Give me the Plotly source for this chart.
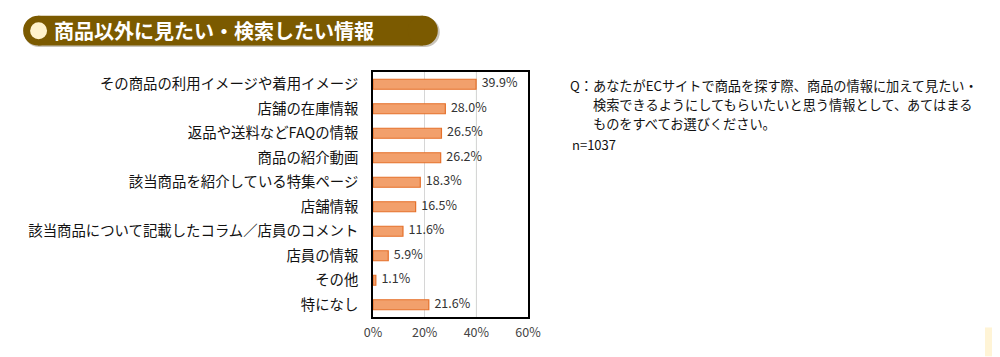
import plotly.graph_objects as go

categories = [
    "その商品の利用イメージや着用イメージ",
    "店舗の在庫情報",
    "返品や送料などFAQの情報",
    "商品の紹介動画",
    "該当商品を紹介している特集ページ",
    "店舗情報",
    "該当商品について記載したコラム／店員のコメント",
    "店員の情報",
    "その他",
    "特になし",
]
values = [39.9, 28.0, 26.5, 26.2, 18.3, 16.5, 11.6, 5.9, 1.1, 21.6]
value_labels = [f"{v:.1f}%" for v in values]
tick_vals = [0, 20, 40, 60]
tick_text = ["0%", "20%", "40%", "60%"]

W, H = 1000, 357
OFF = 8  # page body margin
PX0, PX1 = 373 - OFF, 528.5 - OFF
PY0, PY1 = 71.5 - OFF, 317.5 - OFF
FONT = "Noto Sans CJK JP"


def px(x):
    return (x - OFF - PX0) / (PX1 - PX0)


def py(y):
    return (PY1 - (y - OFF)) / (PY1 - PY0)


fig = go.Figure()
fig.add_trace(go.Bar(
    y=categories,
    x=values,
    orientation="h",
    marker=dict(color="#F2A06C", line=dict(color="#E5702A", width=1.2)),
    width=0.41,
    hoverinfo="skip",
))
fig.add_trace(go.Scatter(
    y=categories,
    x=values,
    mode="text",
    text=["  " + t for t in value_labels],
    textposition="middle right",
    textfont=dict(family=FONT, size=12.5, color="#333333"),
    cliponaxis=False,
    hoverinfo="skip",
))

shapes = []


def pill(x0, y0, x1, y1, color):
    r = (y1 - y0) / 2
    return [
        dict(type="rect", xref="paper", yref="paper", x0=px(x0 + r), x1=px(x1 - r),
             y0=py(y1), y1=py(y0), fillcolor=color, line=dict(width=0), layer="above"),
        dict(type="circle", xref="paper", yref="paper", x0=px(x0), x1=px(x0 + 2 * r),
             y0=py(y1), y1=py(y0), fillcolor=color, line=dict(width=0), layer="above"),
        dict(type="circle", xref="paper", yref="paper", x0=px(x1 - 2 * r), x1=px(x1),
             y0=py(y1), y1=py(y0), fillcolor=color, line=dict(width=0), layer="above"),
    ]


shapes += pill(23, 16.5, 440, 46.5, "#C9C4BA")
shapes += pill(22, 15, 438, 45, "#7B5A00")
shapes.append(dict(type="circle", xref="paper", yref="paper", x0=px(29), x1=px(46),
                   y0=py(38.5), y1=py(21.5), fillcolor="#FFF3CC", line=dict(width=0), layer="above"))
shapes.append(dict(type="rect", xref="paper", yref="paper", x0=px(987), x1=px(1000),
                   y0=py(357), y1=py(328), fillcolor="#FFF4D6", line=dict(width=0), layer="above"))
shapes.append(dict(type="line", xref="x", yref="paper", x0=40, x1=40, y0=0, y1=1,
                   line=dict(color="#DCEEDC", width=1), layer="below"))

annotations = [
    dict(text="<b>商品以外に見たい・検索したい情報</b>", x=px(51), y=py(30), xref="paper", yref="paper",
         xanchor="left", yanchor="middle", showarrow=False,
         font=dict(family=FONT, size=20, color="white")),
    dict(text="Q：あなたがECサイトで商品を探す際、商品の情報に加えて見たい・", x=px(569), y=py(85),
         xref="paper", yref="paper", xanchor="left", yanchor="middle", showarrow=False,
         font=dict(family=FONT, size=13.2, color="#111111")),
    dict(text="検索できるようにしてもらいたいと思う情報として、あてはまる", x=px(592), y=py(104),
         xref="paper", yref="paper", xanchor="left", yanchor="middle", showarrow=False,
         font=dict(family=FONT, size=13.2, color="#111111")),
    dict(text="ものをすべてお選びください。", x=px(592), y=py(123),
         xref="paper", yref="paper", xanchor="left", yanchor="middle", showarrow=False,
         font=dict(family=FONT, size=13.2, color="#111111")),
    dict(text="n=1037", x=px(571), y=py(144),
         xref="paper", yref="paper", xanchor="left", yanchor="middle", showarrow=False,
         font=dict(family=FONT, size=13, color="#111111")),
]

fig.update_layout(
    width=W, height=H,
    margin=dict(l=PX0, r=W - PX1, t=PY0, b=H - PY1, pad=0),
    paper_bgcolor="white", plot_bgcolor="white",
    showlegend=False,
    shapes=shapes,
    annotations=annotations,
    xaxis=dict(range=[0, 60], tickvals=tick_vals, ticktext=tick_text,
               showgrid=True, gridcolor="#D6D6D6", gridwidth=1,
               showline=True, linecolor="#000000", linewidth=1.5, mirror=True,
               zeroline=False, ticks="", ticklen=0, ticklabelstandoff=3,
               tickfont=dict(family=FONT, size=12.5, color="#444444")),
    yaxis=dict(categoryorder="array", categoryarray=categories, autorange="reversed",
               showline=True, linecolor="#000000", linewidth=1.5, mirror=True,
               showgrid=False, ticks="", ticklabelstandoff=10,
               tickfont=dict(family=FONT, size=14.4, color="#111111")),
)

fig.write_html("out.html")
